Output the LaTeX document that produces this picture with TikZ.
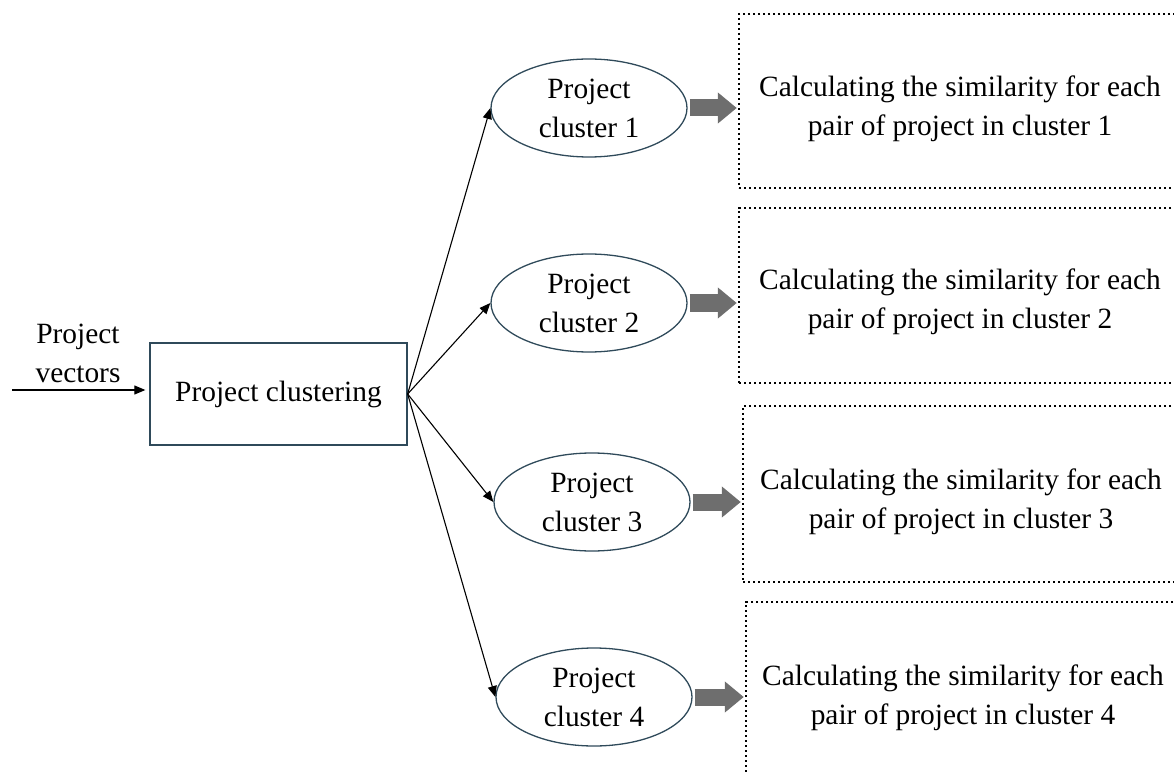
\documentclass[tikz,border=0pt]{standalone}
\usepackage{fontspec}
\setmainfont{Liberation Serif}
\usetikzlibrary{shapes.geometric,arrows.meta,calc}

\definecolor{edgeblue}{HTML}{2F4A5A}
\definecolor{arrowgray}{HTML}{6E6E6E}

\tikzset{
  txt/.style={font=\fontsize{29.4pt}{39pt}\selectfont, align=center, inner sep=0pt},
  clusterbox/.style={ellipse, draw=edgeblue, line width=1.3pt, minimum width=196pt,
                     minimum height=98pt, inner sep=0pt, txt},
  stagebox/.style={rectangle, draw=edgeblue, line width=1.3pt, minimum width=257pt,
                   minimum height=102pt, inner sep=0pt, txt},
  simbox/.style={rectangle, draw=black, line width=2.5pt, dash pattern=on 2.4pt off 2.6pt,
                 minimum width=441pt, inner sep=0pt},
  link/.style={draw=black, line width=1.1pt, -{Triangle[length=11pt,width=9pt]}},
  fatarrow/.style={draw=arrowgray, line width=17pt, -{Triangle[length=19pt,width=30pt]}}
}

\begin{document}
\begin{tikzpicture}[x=1pt,y=-1pt]
\useasboundingbox (0,0) rectangle (1174,775);
\clip (0,0) rectangle (1174,775);

% input and clustering stage
\node[txt] (vec) at (78,353) {Project\\vectors};
\node[stagebox] (clus) at (278.5,394) {Project clustering};
\coordinate (in) at (12,390);
\draw[link] (in) -- ($(in -| clus.west)+(-4,0)$);

% the four clusters
\node[clusterbox] (e1) at (589,108) {Project\\cluster 1};
\node[clusterbox] (e2) at (589,303) {Project\\cluster 2};
\node[clusterbox] (e3) at (592,502) {Project\\cluster 3};
\node[clusterbox] (e4) at (594,697) {Project\\cluster 4};

\foreach \i in {1,...,4}
  \draw[link] (clus.east) -- (e\i.west);

% similarity computation boxes (open on the right)
\node[simbox, minimum height=174pt] (b1) at (959.5,101) {};
\node[simbox, minimum height=175pt] (b2) at (959.5,295.5) {};
\node[simbox, minimum height=176pt] (b3) at (963.5,494) {};
\node[simbox, minimum height=190pt] (b4) at (966.5,697) {};

\node[txt] (t1) at (960,108.5) {Calculating the similarity for each\\pair of project in cluster 1};
\node[txt] (t2) at (960,302) {Calculating the similarity for each\\pair of project in cluster 2};
\node[txt] (t3) at (961,501.5) {Calculating the similarity for each\\pair of project in cluster 3};
\node[txt] (t4) at (963,697.5) {Calculating the similarity for each\\pair of project in cluster 4};

% thick gray arrows from each cluster to its box
\foreach \i in {1,...,4}
  \draw[fatarrow] ($(e\i.east)+(2,0)$) -- ($(e\i.east -| b\i.west)+(-1,0)$);
\end{tikzpicture}
\end{document}
